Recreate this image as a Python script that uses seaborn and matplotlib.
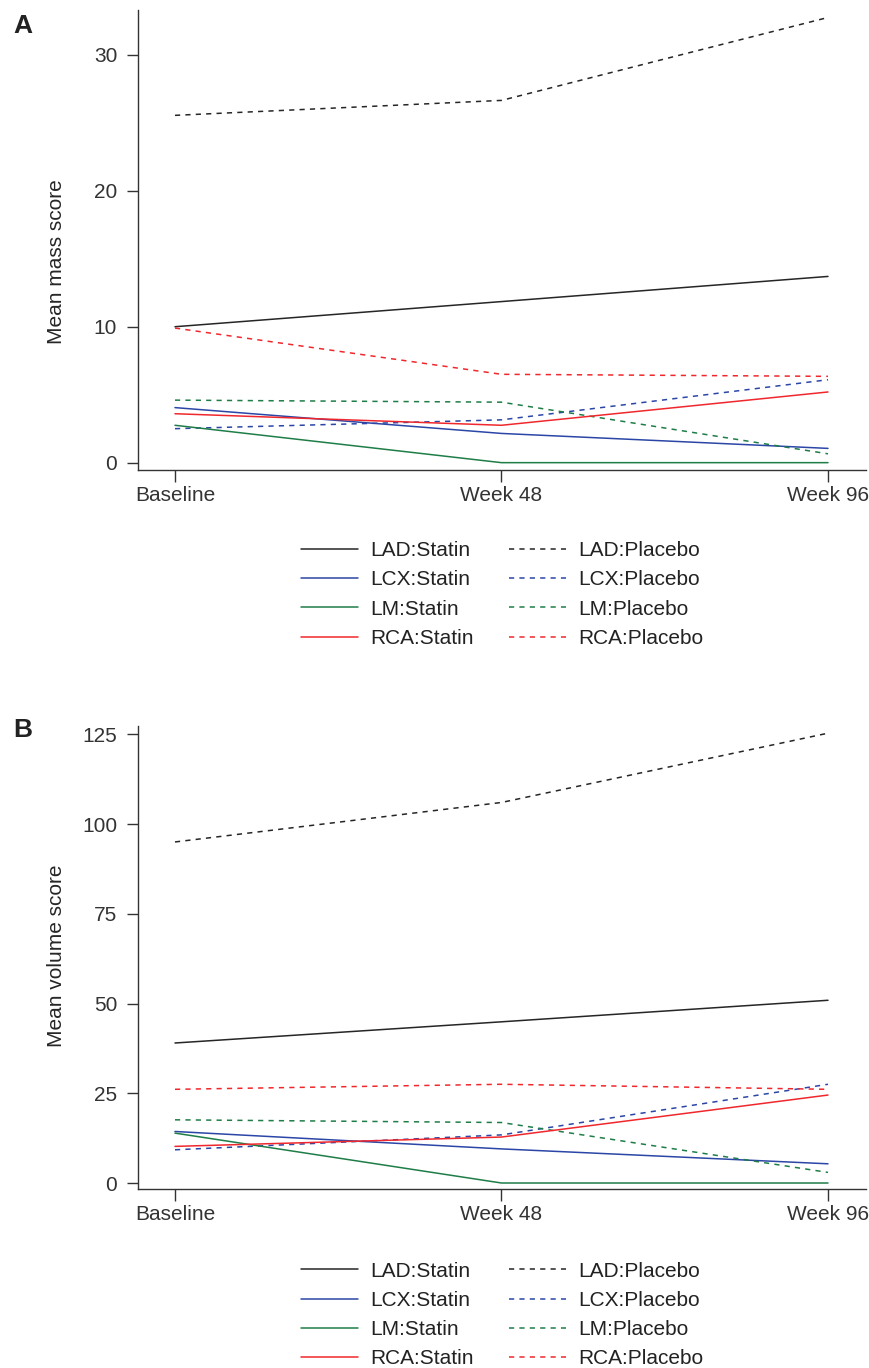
import matplotlib
matplotlib.use("Agg")
import matplotlib.pyplot as plt
import matplotlib.lines as mlines
import numpy as np
import pandas as pd
import seaborn as sns

# time points and series
timepoints = ['Baseline', 'Week 48', 'Week 96']
arteries = ['LAD', 'LCX', 'LM', 'RCA']
groups = ['Statin', 'Placebo']

# panel A: mean mass score
mass_statin = {
    'LAD': [10.0, 11.85, 13.7],
    'LCX': [4.05, 2.15, 1.05],
    'LM': [2.75, 0.0, 0.0],
    'RCA': [3.6, 2.75, 5.2],
}
mass_placebo = {
    'LAD': [25.55, 26.65, 32.75],
    'LCX': [2.5, 3.15, 6.1],
    'LM': [4.6, 4.45, 0.65],
    'RCA': [9.9, 6.5, 6.35],
}

# panel B: mean volume score
vol_statin = {
    'LAD': [39.0, 44.9, 50.9],
    'LCX': [14.35, 9.5, 5.35],
    'LM': [13.9, 0.0, 0.0],
    'RCA': [10.2, 12.8, 24.5],
}
vol_placebo = {
    'LAD': [95.0, 106.0, 125.3],
    'LCX': [9.25, 13.4, 27.5],
    'LM': [17.6, 16.85, 2.95],
    'RCA': [26.1, 27.5, 26.1],
}

palette = {'LAD': '#262626', 'LCX': '#2b46a6', 'LM': '#1f7d48', 'RCA': '#f0282d'}
dash_map = {'Statin': '', 'Placebo': (3.4, 3.4)}


def long_form(statin, placebo):
    rows = []
    for art in arteries:
        for i, t in enumerate(timepoints):
            rows.append({'artery': art, 'group': 'Statin', 'x': i, 'value': statin[art][i]})
            rows.append({'artery': art, 'group': 'Placebo', 'x': i, 'value': placebo[art][i]})
    return pd.DataFrame(rows)


sns.set_theme(style='ticks')
plt.rcParams['font.family'] = ['Liberation Sans', 'DejaVu Sans']
plt.rcParams['axes.edgecolor'] = '#333333'
plt.rcParams['xtick.color'] = '#333333'
plt.rcParams['ytick.color'] = '#333333'
plt.rcParams['text.color'] = '#222222'

FS = 15

fig = plt.figure(figsize=(8.69, 13.68), dpi=100)
axA = fig.add_axes([138/869, 1-470/1368, 728/869, 460/1368])
axB = fig.add_axes([138/869, 1-1189/1368, 728/869, 463/1368])


def draw_panel(ax, df, ylabel, ylim, yticks, label_y, legend_y):
    sns.lineplot(data=df, x='x', y='value', hue='artery', style='group',
                 palette=palette, dashes=dash_map, hue_order=arteries,
                 style_order=groups, lw=1.1, legend=False, ax=ax, estimator=None)
    ax.set_xlim(-0.1133, 2.1164)
    ax.set_ylim(*ylim)
    ax.set_xticks(range(len(timepoints)))
    ax.set_xticklabels(timepoints, fontsize=FS)
    ax.set_yticks(yticks)
    ax.set_yticklabels([str(v) for v in yticks], fontsize=FS)
    ax.tick_params(axis='y', length=8, width=1.0, pad=7)
    ax.tick_params(axis='x', length=8.5, width=1.0, pad=3)
    ax.set_xlabel('')
    ax.set_ylabel(ylabel, fontsize=FS)
    ax.yaxis.set_label_coords(-0.099, label_y)
    for side in ['top', 'right']:
        ax.spines[side].set_visible(False)
    for side in ['left', 'bottom']:
        ax.spines[side].set_linewidth(1.0)

    handles = []
    for grp in groups:
        for art in arteries:
            handles.append(mlines.Line2D([], [], color=palette[art], lw=1.1,
                                         linestyle='-' if grp == 'Statin' else (0, (3.4, 3.4)),
                                         label=f'{art}:{grp}'))
    ax.legend(handles=handles, ncol=2, loc='center', bbox_to_anchor=(0.5, legend_y),
              frameon=False, fontsize=FS, handlelength=2.75, handletextpad=0.58,
              columnspacing=1.7, labelspacing=0.49)


draw_panel(axA, long_form(mass_statin, mass_placebo), 'Mean mass score',
           (-0.54, 33.3), [0, 10, 20, 30], 0.452, -0.2707)
draw_panel(axB, long_form(vol_statin, vol_placebo), 'Mean volume score',
           (-1.67, 127.3), [0, 25, 50, 75, 100, 125], 0.503, -0.272)

fig.text(13/869, 1-33/1368, 'A', fontsize=19, fontweight='bold', ha='left', va='baseline')
fig.text(13/869, 1-737/1368, 'B', fontsize=19, fontweight='bold', ha='left', va='baseline')

fig.savefig('out.png', dpi=100)
